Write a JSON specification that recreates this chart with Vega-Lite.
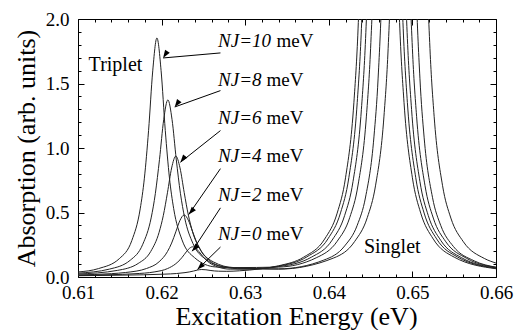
{
  "$schema": "https://vega.github.io/schema/vega-lite/v6.json",
  "width": 418,
  "height": 258,
  "autosize": {"type": "none"},
  "padding": {"left": 78, "top": 19, "right": 23, "bottom": 53},
  "background": "white",
  "config": {
    "view": {"stroke": "#000", "strokeWidth": 1},
    "font": "'Liberation Serif', 'Times New Roman', 'DejaVu Serif', serif",
    "axis": {
      "labelFont": "'Liberation Serif', 'Times New Roman', 'DejaVu Serif', serif",
      "labelFontSize": 19,
      "labelColor": "#000",
      "titleFont": "'Liberation Serif', 'Times New Roman', 'DejaVu Serif', serif",
      "titleFontSize": 26,
      "titleFontWeight": "normal",
      "titleColor": "#000",
      "tickColor": "#000",
      "tickWidth": 1,
      "grid": false,
      "domain": false,
      "labelFlush": false,
      "labelOverlap": false,
      "labelBound": false
    }
  },
  "datasets": {
    "curves": [
      {"nj": 10, "x": 0.610, "y": 0.039}, {"nj": 10, "x": 0.61244, "y": 0.065}, {"nj": 10, "x": 0.61494, "y": 0.142}, {"nj": 10, "x": 0.61644, "y": 0.283}, {"nj": 10, "x": 0.61744, "y": 0.528}, {"nj": 10, "x": 0.61794, "y": 0.766}, {"nj": 10, "x": 0.61844, "y": 1.134}, {"nj": 10, "x": 0.61894, "y": 1.598}, {"nj": 10, "x": 0.61944, "y": 1.853}, {"nj": 10, "x": 0.61994, "y": 1.599}, {"nj": 10, "x": 0.62044, "y": 1.136}, {"nj": 10, "x": 0.62094, "y": 0.768}, {"nj": 10, "x": 0.62144, "y": 0.532}, {"nj": 10, "x": 0.62244, "y": 0.288}, {"nj": 10, "x": 0.62394, "y": 0.150}, {"nj": 10, "x": 0.62644, "y": 0.078}, {"nj": 10, "x": 0.634, "y": 0.061}, {"nj": 10, "x": 0.6406, "y": 0.148}, {"nj": 10, "x": 0.6431, "y": 0.276}, {"nj": 10, "x": 0.6446, "y": 0.460}, {"nj": 10, "x": 0.6456, "y": 0.712}, {"nj": 10, "x": 0.6466, "y": 1.247}, {"nj": 10, "x": 0.6471, "y": 1.773}, {"nj": 10, "x": 0.6476, "y": 2.710}, {"nj": 10, "x": 0.6481, "y": 4.60}, {"nj": 10, "x": 0.6511, "y": 4.60}, {"nj": 10, "x": 0.6516, "y": 2.709}, {"nj": 10, "x": 0.6521, "y": 1.772}, {"nj": 10, "x": 0.6526, "y": 1.246}, {"nj": 10, "x": 0.6536, "y": 0.711}, {"nj": 10, "x": 0.6546, "y": 0.457}, {"nj": 10, "x": 0.6561, "y": 0.273}, {"nj": 10, "x": 0.6586, "y": 0.144}, {"nj": 10, "x": 0.660, "y": 0.108},
      {"nj": 8, "x": 0.610, "y": 0.030}, {"nj": 8, "x": 0.61375, "y": 0.061}, {"nj": 8, "x": 0.61625, "y": 0.130}, {"nj": 8, "x": 0.61775, "y": 0.254}, {"nj": 8, "x": 0.61875, "y": 0.458}, {"nj": 8, "x": 0.61925, "y": 0.646}, {"nj": 8, "x": 0.61975, "y": 0.912}, {"nj": 8, "x": 0.62025, "y": 1.219}, {"nj": 8, "x": 0.62075, "y": 1.373}, {"nj": 8, "x": 0.62125, "y": 1.220}, {"nj": 8, "x": 0.62175, "y": 0.914}, {"nj": 8, "x": 0.62225, "y": 0.649}, {"nj": 8, "x": 0.62275, "y": 0.462}, {"nj": 8, "x": 0.62375, "y": 0.260}, {"nj": 8, "x": 0.62525, "y": 0.139}, {"nj": 8, "x": 0.62775, "y": 0.076}, {"nj": 8, "x": 0.634, "y": 0.063}, {"nj": 8, "x": 0.6394, "y": 0.131}, {"nj": 8, "x": 0.6419, "y": 0.241}, {"nj": 8, "x": 0.6434, "y": 0.401}, {"nj": 8, "x": 0.6444, "y": 0.620}, {"nj": 8, "x": 0.6454, "y": 1.086}, {"nj": 8, "x": 0.6459, "y": 1.542}, {"nj": 8, "x": 0.6464, "y": 2.357}, {"nj": 8, "x": 0.6469, "y": 4.0}, {"nj": 8, "x": 0.6499, "y": 4.0}, {"nj": 8, "x": 0.6504, "y": 2.356}, {"nj": 8, "x": 0.6509, "y": 1.541}, {"nj": 8, "x": 0.6514, "y": 1.084}, {"nj": 8, "x": 0.6524, "y": 0.618}, {"nj": 8, "x": 0.6534, "y": 0.398}, {"nj": 8, "x": 0.6549, "y": 0.237}, {"nj": 8, "x": 0.6574, "y": 0.125}, {"nj": 8, "x": 0.660, "y": 0.076},
      {"nj": 6, "x": 0.610, "y": 0.023}, {"nj": 6, "x": 0.6147, "y": 0.051}, {"nj": 6, "x": 0.6172, "y": 0.105}, {"nj": 6, "x": 0.6187, "y": 0.198}, {"nj": 6, "x": 0.6197, "y": 0.346}, {"nj": 6, "x": 0.6202, "y": 0.475}, {"nj": 6, "x": 0.6207, "y": 0.653}, {"nj": 6, "x": 0.6212, "y": 0.845}, {"nj": 6, "x": 0.6217, "y": 0.937}, {"nj": 6, "x": 0.6222, "y": 0.846}, {"nj": 6, "x": 0.6227, "y": 0.656}, {"nj": 6, "x": 0.6232, "y": 0.480}, {"nj": 6, "x": 0.6237, "y": 0.351}, {"nj": 6, "x": 0.6247, "y": 0.206}, {"nj": 6, "x": 0.6262, "y": 0.117}, {"nj": 6, "x": 0.6287, "y": 0.073}, {"nj": 6, "x": 0.634, "y": 0.077}, {"nj": 6, "x": 0.6385, "y": 0.149}, {"nj": 6, "x": 0.641, "y": 0.277}, {"nj": 6, "x": 0.6425, "y": 0.460}, {"nj": 6, "x": 0.6435, "y": 0.713}, {"nj": 6, "x": 0.6445, "y": 1.247}, {"nj": 6, "x": 0.645, "y": 1.773}, {"nj": 6, "x": 0.6455, "y": 2.710}, {"nj": 6, "x": 0.646, "y": 4.6}, {"nj": 6, "x": 0.649, "y": 4.6}, {"nj": 6, "x": 0.6495, "y": 2.709}, {"nj": 6, "x": 0.650, "y": 1.772}, {"nj": 6, "x": 0.6505, "y": 1.246}, {"nj": 6, "x": 0.6515, "y": 0.711}, {"nj": 6, "x": 0.6525, "y": 0.457}, {"nj": 6, "x": 0.654, "y": 0.273}, {"nj": 6, "x": 0.6565, "y": 0.144}, {"nj": 6, "x": 0.660, "y": 0.075},
      {"nj": 4, "x": 0.610, "y": 0.016}, {"nj": 4, "x": 0.614, "y": 0.026}, {"nj": 4, "x": 0.6157, "y": 0.035}, {"nj": 4, "x": 0.6182, "y": 0.066}, {"nj": 4, "x": 0.6197, "y": 0.118}, {"nj": 4, "x": 0.6207, "y": 0.197}, {"nj": 4, "x": 0.6212, "y": 0.263}, {"nj": 4, "x": 0.6217, "y": 0.350}, {"nj": 4, "x": 0.6222, "y": 0.439}, {"nj": 4, "x": 0.6227, "y": 0.481}, {"nj": 4, "x": 0.6232, "y": 0.440}, {"nj": 4, "x": 0.6237, "y": 0.353}, {"nj": 4, "x": 0.6242, "y": 0.268}, {"nj": 4, "x": 0.6247, "y": 0.203}, {"nj": 4, "x": 0.6257, "y": 0.129}, {"nj": 4, "x": 0.6272, "y": 0.082}, {"nj": 4, "x": 0.6297, "y": 0.063}, {"nj": 4, "x": 0.634, "y": 0.081}, {"nj": 4, "x": 0.6379, "y": 0.153}, {"nj": 4, "x": 0.6404, "y": 0.286}, {"nj": 4, "x": 0.6419, "y": 0.478}, {"nj": 4, "x": 0.6429, "y": 0.741}, {"nj": 4, "x": 0.6439, "y": 1.300}, {"nj": 4, "x": 0.6444, "y": 1.849}, {"nj": 4, "x": 0.6449, "y": 2.827}, {"nj": 4, "x": 0.6454, "y": 4.8}, {"nj": 4, "x": 0.6484, "y": 4.8}, {"nj": 4, "x": 0.6489, "y": 2.825}, {"nj": 4, "x": 0.6494, "y": 1.848}, {"nj": 4, "x": 0.6499, "y": 1.299}, {"nj": 4, "x": 0.6509, "y": 0.740}, {"nj": 4, "x": 0.6519, "y": 0.476}, {"nj": 4, "x": 0.6534, "y": 0.283}, {"nj": 4, "x": 0.6559, "y": 0.149}, {"nj": 4, "x": 0.660, "y": 0.071},
      {"nj": 2, "x": 0.610, "y": 0.012}, {"nj": 2, "x": 0.614, "y": 0.018}, {"nj": 2, "x": 0.6167, "y": 0.025}, {"nj": 2, "x": 0.6192, "y": 0.040}, {"nj": 2, "x": 0.6207, "y": 0.065}, {"nj": 2, "x": 0.6217, "y": 0.103}, {"nj": 2, "x": 0.6222, "y": 0.133}, {"nj": 2, "x": 0.6227, "y": 0.173}, {"nj": 2, "x": 0.6232, "y": 0.214}, {"nj": 2, "x": 0.6237, "y": 0.234}, {"nj": 2, "x": 0.6242, "y": 0.216}, {"nj": 2, "x": 0.6247, "y": 0.178}, {"nj": 2, "x": 0.6252, "y": 0.140}, {"nj": 2, "x": 0.6257, "y": 0.111}, {"nj": 2, "x": 0.6267, "y": 0.079}, {"nj": 2, "x": 0.6282, "y": 0.061}, {"nj": 2, "x": 0.6307, "y": 0.061}, {"nj": 2, "x": 0.634, "y": 0.084}, {"nj": 2, "x": 0.6374, "y": 0.157}, {"nj": 2, "x": 0.6399, "y": 0.296}, {"nj": 2, "x": 0.6414, "y": 0.497}, {"nj": 2, "x": 0.6424, "y": 0.771}, {"nj": 2, "x": 0.6434, "y": 1.353}, {"nj": 2, "x": 0.6439, "y": 1.925}, {"nj": 2, "x": 0.6444, "y": 2.943}, {"nj": 2, "x": 0.6449, "y": 5.0}, {"nj": 2, "x": 0.6479, "y": 5.0}, {"nj": 2, "x": 0.6484, "y": 2.942}, {"nj": 2, "x": 0.6489, "y": 1.924}, {"nj": 2, "x": 0.6494, "y": 1.352}, {"nj": 2, "x": 0.6504, "y": 0.770}, {"nj": 2, "x": 0.6514, "y": 0.496}, {"nj": 2, "x": 0.6529, "y": 0.295}, {"nj": 2, "x": 0.6554, "y": 0.155}, {"nj": 2, "x": 0.660, "y": 0.068},
      {"nj": 0, "x": 0.610, "y": 0.010}, {"nj": 0, "x": 0.614, "y": 0.013}, {"nj": 0, "x": 0.6178, "y": 0.017}, {"nj": 0, "x": 0.6203, "y": 0.022}, {"nj": 0, "x": 0.6218, "y": 0.027}, {"nj": 0, "x": 0.6228, "y": 0.034}, {"nj": 0, "x": 0.6233, "y": 0.039}, {"nj": 0, "x": 0.6238, "y": 0.046}, {"nj": 0, "x": 0.6243, "y": 0.054}, {"nj": 0, "x": 0.6248, "y": 0.058}, {"nj": 0, "x": 0.6253, "y": 0.056}, {"nj": 0, "x": 0.6258, "y": 0.051}, {"nj": 0, "x": 0.6263, "y": 0.047}, {"nj": 0, "x": 0.6268, "y": 0.045}, {"nj": 0, "x": 0.6278, "y": 0.044}, {"nj": 0, "x": 0.6293, "y": 0.048}, {"nj": 0, "x": 0.6318, "y": 0.063}, {"nj": 0, "x": 0.634, "y": 0.087}, {"nj": 0, "x": 0.637, "y": 0.154}, {"nj": 0, "x": 0.6395, "y": 0.294}, {"nj": 0, "x": 0.641, "y": 0.495}, {"nj": 0, "x": 0.642, "y": 0.769}, {"nj": 0, "x": 0.643, "y": 1.351}, {"nj": 0, "x": 0.6435, "y": 1.923}, {"nj": 0, "x": 0.644, "y": 2.941}, {"nj": 0, "x": 0.6445, "y": 5.0}, {"nj": 0, "x": 0.6475, "y": 5.0}, {"nj": 0, "x": 0.648, "y": 2.941}, {"nj": 0, "x": 0.6485, "y": 1.923}, {"nj": 0, "x": 0.649, "y": 1.351}, {"nj": 0, "x": 0.650, "y": 0.769}, {"nj": 0, "x": 0.651, "y": 0.495}, {"nj": 0, "x": 0.6525, "y": 0.294}, {"nj": 0, "x": 0.655, "y": 0.154}, {"nj": 0, "x": 0.660, "y": 0.064}
    ],
    "arrows": [
      {"nj": 10, "x1": 0.62704, "y1": 1.737, "x2": 0.62018, "y2": 1.698},
      {"nj": 8, "x1": 0.62704, "y1": 1.445, "x2": 0.62157, "y2": 1.318},
      {"nj": 6, "x1": 0.62704, "y1": 1.135, "x2": 0.62225, "y2": 0.889},
      {"nj": 4, "x1": 0.62704, "y1": 0.840, "x2": 0.62324, "y2": 0.484},
      {"nj": 2, "x1": 0.62704, "y1": 0.536, "x2": 0.62365, "y2": 0.200},
      {"nj": 0, "x1": 0.62704, "y1": 0.232, "x2": 0.62428, "y2": 0.058}
    ],
    "labels": [
      {"nj": 10, "lab": "NJ=10", "x": 0.62676, "xm": 0.63374, "y": 1.780},
      {"nj": 8, "lab": "NJ=8", "x": 0.62676, "xm": 0.63255, "y": 1.478},
      {"nj": 6, "lab": "NJ=6", "x": 0.62676, "xm": 0.63255, "y": 1.187},
      {"nj": 4, "lab": "NJ=4", "x": 0.62676, "xm": 0.63255, "y": 0.889},
      {"nj": 2, "lab": "NJ=2", "x": 0.62676, "xm": 0.63255, "y": 0.587},
      {"nj": 0, "lab": "NJ=0", "x": 0.62676, "xm": 0.63255, "y": 0.290}
    ],
    "names": [
      {"t": "Triplet", "x": 0.61127, "y": 1.600},
      {"t": "Singlet", "x": 0.6442, "y": 0.187}
    ]
  },
  "layer": [
    {
      "data": {"name": "curves"},
      "mark": {"type": "line", "clip": true, "interpolate": "monotone", "stroke": "#222", "strokeWidth": 1},
      "encoding": {
        "x": {
          "field": "x", "type": "quantitative",
          "scale": {"domain": [0.61, 0.66], "nice": false, "zero": false},
          "axis": {
            "orient": "bottom",
            "title": "Excitation Energy (eV)",
            "titleX": 218, "titleY": 47, "titleBaseline": "alphabetic", "titleAlign": "center",
            "values": [0.61, 0.612, 0.614, 0.616, 0.618, 0.62, 0.622, 0.624, 0.626, 0.628, 0.63, 0.632, 0.634, 0.636, 0.638, 0.64, 0.642, 0.644, 0.646, 0.648, 0.65, 0.652, 0.654, 0.656, 0.658, 0.66],
            "labelExpr": "abs(datum.value*100 - round(datum.value*100)) < 0.01 ? format(datum.value, '.2f') : ''",
            "tickSize": {"condition": {"test": "abs(datum.value*100 - round(datum.value*100)) < 0.01", "value": -6}, "value": -3},
            "labelPadding": 12
          }
        },
        "y": {
          "field": "y", "type": "quantitative",
          "scale": {"domain": [0, 2], "nice": false, "zero": false},
          "axis": {
            "orient": "left",
            "title": "Absorption (arb. units)",
            "titleX": -44, "titleY": 129, "titleAngle": 270, "titleBaseline": "alphabetic", "titleAlign": "center",
            "values": [0, 0.1, 0.2, 0.3, 0.4, 0.5, 0.6, 0.7, 0.8, 0.9, 1.0, 1.1, 1.2, 1.3, 1.4, 1.5, 1.6, 1.7, 1.8, 1.9, 2.0],
            "labelExpr": "abs(datum.value*2 - round(datum.value*2)) < 0.01 ? format(datum.value, '.1f') : ''",
            "tickSize": {"condition": {"test": "abs(datum.value*2 - round(datum.value*2)) < 0.01", "value": -6}, "value": -3},
            "labelPadding": 15
          }
        },
        "detail": {"field": "nj", "type": "nominal"}
      }
    },
    {
      "data": {"name": "arrows"},
      "mark": {"type": "rule", "stroke": "#000", "strokeWidth": 1},
      "encoding": {
        "x": {
          "field": "x1", "type": "quantitative",
          "scale": {"domain": [0.61, 0.66], "nice": false, "zero": false},
          "axis": {
            "orient": "top", "title": null, "labels": false,
            "values": [0.61, 0.612, 0.614, 0.616, 0.618, 0.62, 0.622, 0.624, 0.626, 0.628, 0.63, 0.632, 0.634, 0.636, 0.638, 0.64, 0.642, 0.644, 0.646, 0.648, 0.65, 0.652, 0.654, 0.656, 0.658, 0.66],
            "tickSize": {"condition": {"test": "abs(datum.value*100 - round(datum.value*100)) < 0.01", "value": -6}, "value": -3}
          }
        },
        "y": {
          "field": "y1", "type": "quantitative",
          "scale": {"domain": [0, 2], "nice": false, "zero": false},
          "axis": {
            "orient": "right", "title": null, "labels": false,
            "values": [0, 0.1, 0.2, 0.3, 0.4, 0.5, 0.6, 0.7, 0.8, 0.9, 1.0, 1.1, 1.2, 1.3, 1.4, 1.5, 1.6, 1.7, 1.8, 1.9, 2.0],
            "tickSize": {"condition": {"test": "abs(datum.value*2 - round(datum.value*2)) < 0.01", "value": -6}, "value": -3}
          }
        },
        "x2": {"field": "x2"},
        "y2": {"field": "y2"}
      }
    },
    {
      "data": {"name": "arrows"},
      "mark": {"type": "point", "shape": "M0,0L-0.35,1L0.35,1Z", "filled": true, "color": "#000", "opacity": 1, "size": 250},
      "encoding": {
        "x": {"field": "x2", "type": "quantitative", "axis": null},
        "y": {"field": "y2", "type": "quantitative", "axis": null},
        "angle": {
          "field": "nj", "type": "nominal",
          "scale": {"domain": [0, 2, 4, 6, 8, 10], "range": [-134.4, -146.9, -145.4, -128.4, -109.6, -95]},
          "legend": null
        }
      }
    },
    {
      "data": {"name": "labels"},
      "mark": {"type": "text", "align": "left", "baseline": "alphabetic", "font": "'Liberation Serif', 'Times New Roman', 'DejaVu Serif', serif", "fontSize": 19, "fontStyle": "italic", "color": "#000"},
      "encoding": {
        "x": {"field": "x", "type": "quantitative", "axis": null},
        "y": {"field": "y", "type": "quantitative", "axis": null},
        "text": {"field": "lab"}
      }
    },
    {
      "data": {"name": "labels"},
      "mark": {"type": "text", "align": "left", "baseline": "alphabetic", "font": "'Liberation Serif', 'Times New Roman', 'DejaVu Serif', serif", "fontSize": 19, "color": "#000"},
      "encoding": {
        "x": {"field": "xm", "type": "quantitative", "axis": null},
        "y": {"field": "y", "type": "quantitative", "axis": null},
        "text": {"value": "meV"}
      }
    },
    {
      "data": {"name": "names"},
      "mark": {"type": "text", "align": "left", "baseline": "alphabetic", "font": "'Liberation Serif', 'Times New Roman', 'DejaVu Serif', serif", "fontSize": 20, "color": "#000"},
      "encoding": {
        "x": {"field": "x", "type": "quantitative", "axis": null},
        "y": {"field": "y", "type": "quantitative", "axis": null},
        "text": {"field": "t"}
      }
    }
  ],
  "resolve": {"axis": {"x": "independent", "y": "independent"}}
}
